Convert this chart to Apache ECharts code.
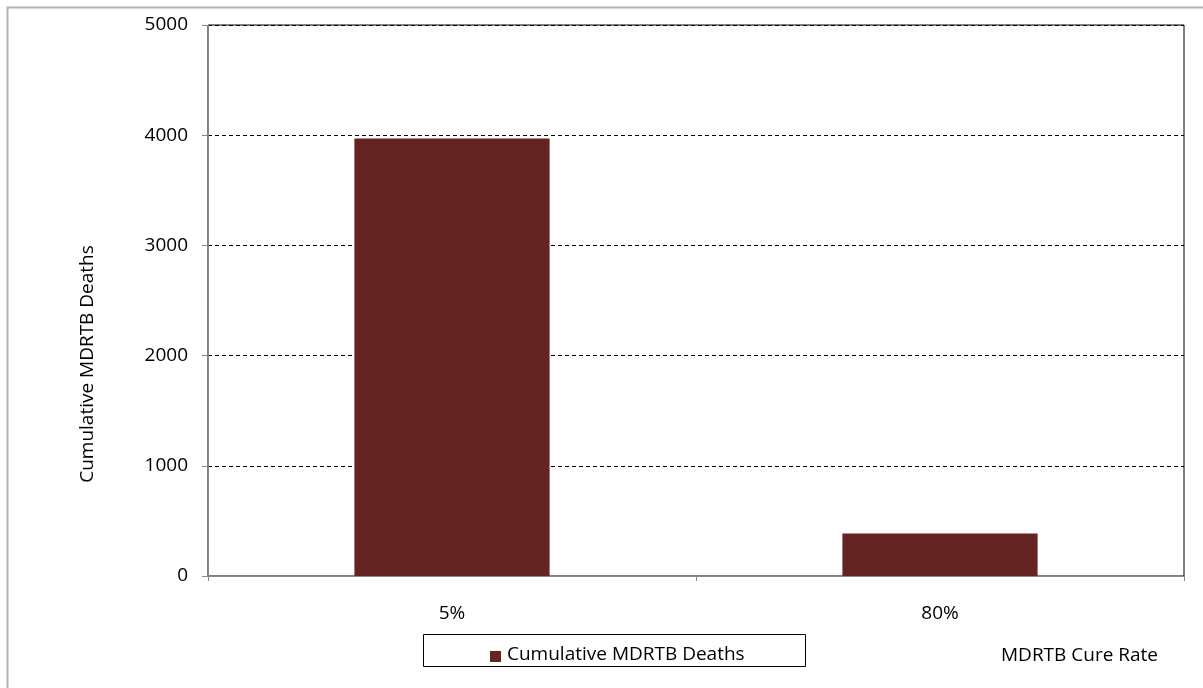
<!DOCTYPE html>
<html>
<head>
<meta charset="utf-8">
<script src="https://cdn.jsdelivr.net/npm/echarts@6/dist/echarts.min.js"></script>
<style>
  html, body { margin: 0; padding: 0; background: #fff; }
  #chart { width: 1203px; height: 688px; }
</style>
</head>
<body>
<div id="chart"></div>
<script>
// Cure-rate scenarios and the cumulative MDR-TB deaths for each
const categories = ['5%', '80%'];
const deaths = [3970, 385];
const yTicks = { min: 0, max: 5000, interval: 1000 };
const seriesName = 'Cumulative MDRTB Deaths';
const xTitle = 'MDRTB Cure Rate';
const yTitle = 'Cumulative MDRTB Deaths';

const FONT = '"Open Sans", "Noto Sans", sans-serif';
const FS = 19;
const chart = echarts.init(document.getElementById('chart'), null, { renderer: 'canvas' });

chart.setOption({
  animation: false,
  backgroundColor: '#fff',
  textStyle: { fontFamily: FONT },
  grid: {
    left: 208, right: 19, top: 25, bottom: 112,
    show: true, borderColor: '#000', borderWidth: 1
  },
  legend: { show: false },
  xAxis: {
    type: 'category',
    data: categories,
    axisLine: { lineStyle: { color: '#868686', width: 1 } },
    axisTick: { show: true, alignWithLabel: false, length: 5, lineStyle: { color: '#868686' } },
    axisLabel: { color: '#000', fontSize: FS, fontFamily: FONT, margin: 28 },
    splitLine: { show: false }
  },
  yAxis: {
    type: 'value',
    min: yTicks.min, max: yTicks.max, interval: yTicks.interval,
    axisLine: { show: true, lineStyle: { color: '#868686', width: 1 } },
    axisTick: { show: true, length: 6, lineStyle: { color: '#868686' } },
    axisLabel: { color: '#000', fontSize: FS, fontFamily: FONT, margin: 20,
                 formatter: v => String(v) },
    splitLine: { show: true, lineStyle: { color: '#000', type: [4, 3], width: 1 } }
  },
  series: [{
    name: seriesName,
    type: 'bar',
    data: deaths,
    barWidth: '40%',
    itemStyle: { color: '#632423' }
  }],
  graphic: [
    // outer chart frame
    { type: 'rect', left: 5, top: 5, shape: { width: 1210, height: 700 },
      style: { fill: 'none', stroke: '#b3b3b3', lineWidth: 2 }, silent: true },
    // y axis title
    { type: 'text', x: 88, y: 364, rotation: Math.PI / 2,
      style: { text: yTitle, fill: '#000', fontSize: FS, fontFamily: FONT,
               align: 'center', verticalAlign: 'middle' } },
    // legend box
    { type: 'rect', left: 423, top: 634, shape: { width: 382, height: 32 },
      style: { fill: '#fff', stroke: '#000', lineWidth: 1 } },
    { type: 'rect', left: 490, top: 651, shape: { width: 11, height: 11 },
      style: { fill: '#632423' } },
    { type: 'text', left: 507, top: 645,
      style: { text: seriesName, fill: '#000', fontSize: FS, fontFamily: FONT } },
    // x axis title
    { type: 'text', left: 1001, top: 646,
      style: { text: xTitle, fill: '#000', fontSize: FS, fontFamily: FONT } }
  ]
});
</script>
</body>
</html>
